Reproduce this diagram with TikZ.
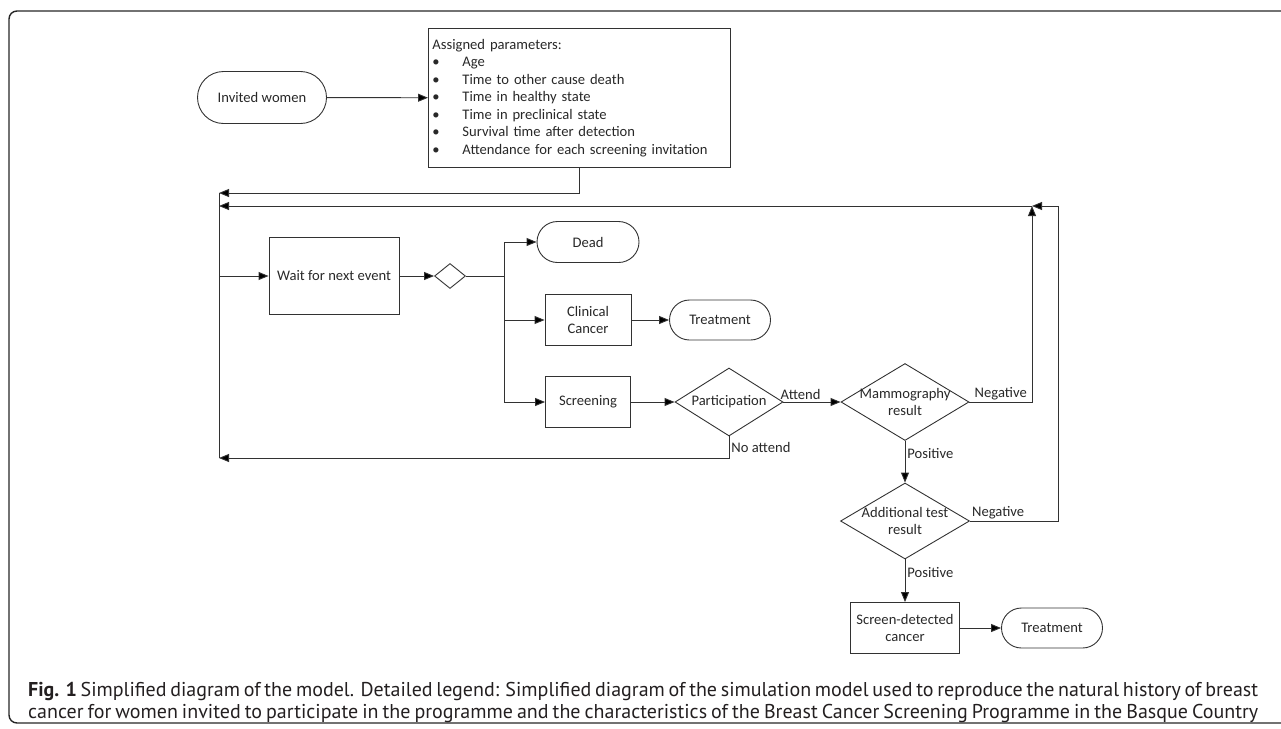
\documentclass[tikz,border=0pt]{standalone}
\usepackage{fontspec}
\setmainfont{Carlito}
\newfontfamily\capfont{PT Sans}
\usetikzlibrary{arrows.meta,shapes.geometric,shapes.misc}
\definecolor{lineCol}{RGB}{50,50,50}
\definecolor{textCol}{RGB}{40,40,40}
\definecolor{capCol}{RGB}{35,31,32}

\begin{document}
\begin{tikzpicture}[x=1pt, y=-1pt,
  every node/.style={font=\fontsize{14.6}{17.5}\selectfont, text=textCol},
  terminal/.style n args={2}{rounded rectangle, draw=lineCol, line width=0.9pt,
    minimum width=#1, minimum height=#2, inner sep=0pt},
  procbox/.style n args={2}{rectangle, draw=lineCol, line width=0.9pt,
    minimum width=#1, minimum height=#2, align=center, inner sep=0pt},
  decision/.style n args={2}{diamond, draw=lineCol, line width=0.9pt,
    minimum width=#1, minimum height=#2, inner sep=0pt},
  flow/.style={draw=lineCol, line width=0.9pt, -{Triangle[length=10pt, width=8pt, fill=black]}},
  plainline/.style={draw=lineCol, line width=0.9pt},
  lbl/.style={inner sep=2pt},
  capline/.style={anchor=base west, inner sep=0pt, text=capCol,
    font=\capfont\fontsize{20}{23}\selectfont},
]
\useasboundingbox (0,0) rectangle (1281,728);
\clip (0,0) rectangle (1281,728);
% frame
\draw[line width=1.4pt, rounded corners=8pt, color=black!85] (9,11) rectangle (1320,723);
% start
\node[terminal={129}{52}] (invited) at (262,97.5) {Invited women};
\node[procbox={302}{139}, anchor=north west, text width=294, align=left, inner sep=4pt] (params) at (428,28)
  {Assigned parameters:\\
   \makebox[30pt][l]{\textbullet}Age\\
   \makebox[30pt][l]{\textbullet}Time to other cause death\\
   \makebox[30pt][l]{\textbullet}Time in healthy state\\
   \makebox[30pt][l]{\textbullet}Time in preclinical state\\
   \makebox[30pt][l]{\textbullet}Survival time after detection\\
   \makebox[30pt][l]{\textbullet}Attendance for each screening invitation};
% loop
\coordinate (loopTop) at (219,193);
\coordinate (loopMid) at (219,206);
\coordinate (loopIn) at (219,276);
\coordinate (loopBot) at (219,458);
\coordinate (negJoin) at (1032,206);
\coordinate (negTurn) at (1058,206);
% events
\node[procbox={130}{77}] (wait) at (334,276) {Wait for next event};
\node[decision={31}{25}] (event) at (450,276) {};
\coordinate (branch) at (504,276);
\node[terminal={102}{41}] (dead) at (588,242) {Dead};
\node[procbox={86}{51}] (clinical) at (588,320) {Clinical\\Cancer};
\node[terminal={101}{40}] (treatA) at (720,320) {Treatment};
\node[procbox={85}{51}] (screening) at (588,402) {Screening};
% screening
\node[decision={108}{68}, label={[lbl]center:Participation}] (particip) at (729,402) {};
\node[decision={128}{77}, label={[lbl, align=center]center:Mammography\\result}] (mammo) at (905,402) {};
\node[decision={129}{76}, label={[lbl, align=center]center:Additional test\\result}] (addtest) at (905,521) {};
\node[procbox={109}{51}] (detected) at (905,628) {Screen-detected\\cancer};
\node[terminal={101}{40}] (treatB) at (1052,628) {Treatment};
% connectors
\draw[flow] (invited) -- (params);
\draw[flow] (params.south) |- (loopTop);
\draw[plainline] (loopTop) -- (loopBot);
\draw[flow] (loopIn) -- (wait);
\draw[flow] (wait) -- (event);
\draw[plainline] (event.east) -- (branch);
\draw[flow] (branch) |- (dead.west);
\draw[flow] (branch) |- (clinical.west);
\draw[flow] (branch) |- (screening.west);
\draw[flow] (clinical) -- (treatA);
\draw[flow] (screening) -- (particip);
\draw[flow] (particip) -- node[lbl, above, pos=0.3] {Attend} (mammo);
\draw[flow] (particip.south) |- node[lbl, right, pos=0.25] {No attend} (loopBot);
\draw[flow] (mammo.east) -| node[lbl, above, pos=0.25] {Negative} (negJoin);
\draw[flow] (negJoin) -- (loopMid);
\draw[flow] (addtest.east) -| node[lbl, above, pos=0.16] {Negative} (negTurn) -- (negJoin);
\draw[flow] (mammo) -- node[lbl, right, pos=0.3] {Positive} (addtest);
\draw[flow] (addtest) -- node[lbl, right, pos=0.3] {Positive} (detected);
\draw[flow] (detected) -- (treatB);
% caption
\node[capline] (capA) at (28,696) {\makebox[1230pt][s]{\textbf{Fig. 1} Simplified diagram of the model. Detailed legend: Simplified diagram of the simulation model used to reproduce the natural history of breast}};
\node[capline] (capB) at (28,718) {\makebox[1230pt][s]{cancer for women invited to participate in the programme and the characteristics of the Breast Cancer Screening Programme in the Basque Country}};
\end{tikzpicture}
\end{document}
